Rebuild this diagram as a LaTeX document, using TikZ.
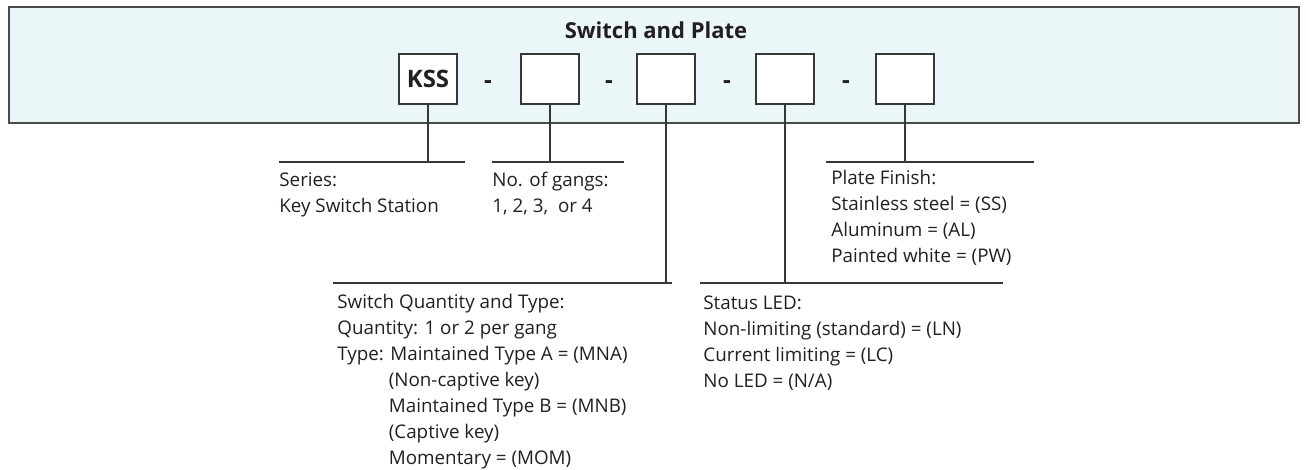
\documentclass[tikz,border=0pt]{standalone}
\usepackage{fontspec}
\setmainfont{Open Sans}

\definecolor{platefill}{RGB}{234,246,248}
\definecolor{frameclr}{RGB}{75,75,75}
\definecolor{lineclr}{RGB}{55,55,55}
\definecolor{textclr}{RGB}{35,31,32}

\tikzset{
  codebox/.style={draw=lineclr, line width=0.7pt, fill=white, inner sep=0pt,
    minimum width=29pt, minimum height=25pt, text=textclr,
    font=\bfseries\fontsize{12}{14}\selectfont},
  sep/.style={anchor=base, inner sep=0pt, text=textclr,
    font=\bfseries\fontsize{12}{14}\selectfont},
  legend/.style={anchor=north west, inner sep=0pt, align=left, text=textclr,
    font=\fontsize{9.4}{13}\selectfont},
  leader/.style={draw=lineclr, line width=0.65pt}
}

\begin{document}
\begin{tikzpicture}[x=0.5pt, y=-0.5pt]

      % Definitions
      \def\boxy{79}     % Centre line of the code boxes
      \def\upper{162}   % Height of the upper label rules
      \def\lower{283}   % Height of the lower label rules

      \useasboundingbox (0,0) rectangle (1306,470);

      % Plate frame
      \draw [fill=platefill, draw=frameclr, line width=1pt] (9,7) rectangle (1299,123);
      \node [anchor=base, inner sep=0pt, text=textclr, font=\bfseries\fontsize{11}{13}\selectfont] (title) at (656,39) {Switch and Plate};

      % Code boxes
      \node [codebox] (kss)    at (428,\boxy) {KSS};
      \node [codebox] (gangs)  at (550,\boxy) {};
      \node [codebox] (switch) at (666,\boxy) {};
      \node [codebox] (led)    at (785,\boxy) {};
      \node [codebox] (finish) at (905,\boxy) {};

      \foreach \x/\n in {488/a, 609/b, 727/c, 846/d}
         \node [sep] (dash\n) at (\x,89) {-};

      % Rules under the labels
      \coordinate (seriesL) at (279,\upper);  \coordinate (seriesR) at (465,\upper);
      \coordinate (gangsL)  at (492,\upper);  \coordinate (gangsR)  at (624,\upper);
      \coordinate (finishL) at (826,\upper);  \coordinate (finishR) at (1034,\upper);
      \coordinate (switchL) at (333,\lower);  \coordinate (switchR) at (672,\lower);
      \coordinate (ledL)    at (700,\lower);  \coordinate (ledR)    at (1003,\lower);

      \draw [leader] (seriesL) -- (seriesR);
      \draw [leader] (gangsL) -- (gangsR);
      \draw [leader] (finishL) -- (finishR);
      \draw [leader] (switchL) -- (switchR);
      \draw [leader] (ledL) -- (ledR);

      % Connectors
      \draw [leader] (kss.south) -- (kss.south |- seriesL);
      \draw [leader] (gangs.south) -- (gangs.south |- gangsL);
      \draw [leader] (switch.south) -- (switch.south |- switchL);
      \draw [leader] (led.south) -- (led.south |- ledL);
      \draw [leader] (finish.south) -- (finish.south |- finishL);

      % Labels
      \node [legend] (seriesT) at (279,172) {Series:\\Key Switch Station};
      \node [legend] (gangsT) at (492,172) {No. of gangs:\\1, 2, 3,\ \ or 4};
      \node [legend] (finishT) at (831,170) {Plate Finish:\\Stainless steel = (SS)\\Aluminum = (AL)\\Painted white = (PW)};
      \node [legend] (switchT) at (337,294) {Switch Quantity and Type:\\Quantity: 1 or 2 per gang\\Type: Maintained Type A = (MNA)\\\hphantom{Type:\ }(Non-captive key)\\\hphantom{Type:\ }Maintained Type B = (MNB)\\\hphantom{Type:\ }(Captive key)\\\hphantom{Type:\ }Momentary = (MOM)};
      \node [legend] (ledT) at (703,295) {Status LED:\\Non-limiting (standard) = (LN)\\Current limiting = (LC)\\No LED = (N/A)};

   \end{tikzpicture}
\end{document}
